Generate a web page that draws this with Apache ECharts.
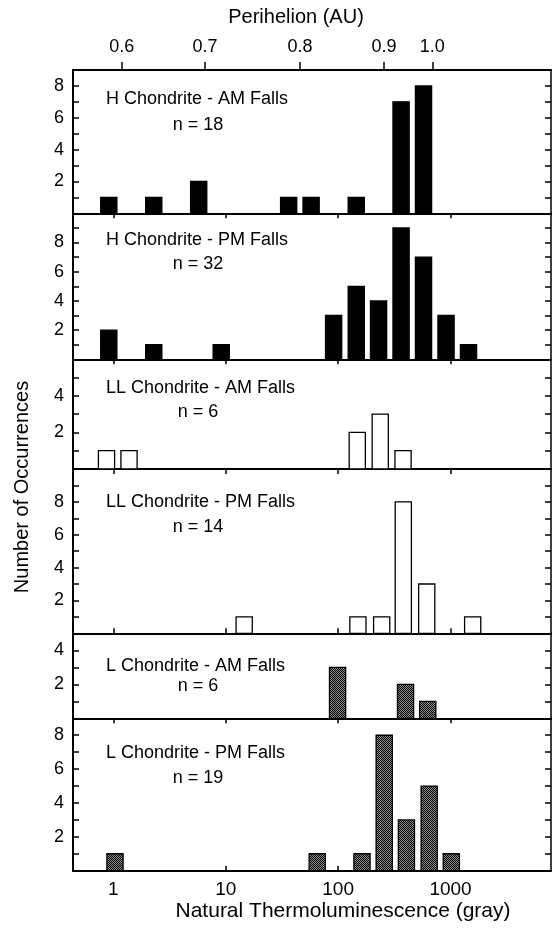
<!DOCTYPE html>
<html><head><meta charset="utf-8">
<script src="https://cdn.jsdelivr.net/npm/echarts@6/dist/echarts.min.js"></script>
<style>html,body{margin:0;padding:0;background:#fff}#c{width:553px;height:928px}</style>
</head><body><div id="c"></div>
<script>
// ---------- data ----------
const panelTitles = ['H Chondrite - AM Falls', 'H Chondrite - PM Falls', 'LL Chondrite - AM Falls',
                     'LL Chondrite - PM Falls', 'L Chondrite - AM Falls', 'L Chondrite - PM Falls'];
const panelN = ['n = 18', 'n = 32', 'n = 6', 'n = 14', 'n = 6', 'n = 19'];

// natural TL (gray) at bin centres, and number of occurrences
const hAmTL = [0.912, 2.29, 5.75, 36.3, 57.5, 145, 363, 575];
const hAmCount = [1, 1, 2, 1, 1, 1, 7, 8];
const hPmTL = [0.912, 2.29, 9.12, 91.2, 145, 229, 363, 575, 912, 1445];
const hPmCount = [2, 1, 1, 3, 5, 4, 9, 7, 3, 1];
const llAmTL = [0.87, 1.38, 148, 237, 378];
const llAmCount = [1, 1, 2, 3, 1];
const llPmTL = [14.6, 150, 244, 380, 614, 1574];
const llPmCount = [1, 1, 1, 8, 3, 1];
const lAmTL = [98.9, 398, 627];
const lAmCount = [3, 2, 1];
const lPmTL = [1.035, 65.2, 163, 257, 405, 646, 1016];
const lPmCount = [1, 1, 1, 8, 3, 5, 1];

const yMax = [9, 10, 6, 10, 5, 9];
const bottomTicks = [1, 10, 100, 1000];
const perihelionLabels = ['0.6', '0.7', '0.8', '0.9', '1.0'];
const perihelionAtTL = [1.19, 6.54, 45.8, 256, 689];

// ---------- layout / style ----------
const FONT = '"Liberation Sans", Arial, Helvetica, sans-serif';
const xMin = 0.438, xMax = 7830;
const gridLeft = 73, gridRight = 2;
const edges = [70, 213.3, 359.3, 469, 633.3, 718.3, 870.7];
const tickDownInside = [false, false, false, true, false, true];
const halfBin = Math.pow(10, 0.072);

const pc = document.createElement('canvas');
pc.width = 2; pc.height = 2;
const pctx = pc.getContext('2d');
pctx.fillStyle = '#8a8a8a'; pctx.fillRect(0, 0, 2, 2);
pctx.fillStyle = '#000'; pctx.fillRect(0, 0, 1, 1); pctx.fillRect(1, 1, 1, 1);
const stipple = { image: pc, repeat: 'repeat' };

const panels = [
  { x: hAmTL, y: hAmCount, fill: '#000' },
  { x: hPmTL, y: hPmCount, fill: '#000' },
  { x: llAmTL, y: llAmCount, fill: '#fff' },
  { x: llPmTL, y: llPmCount, fill: '#fff' },
  { x: lAmTL, y: lAmCount, fill: stipple },
  { x: lPmTL, y: lPmCount, fill: stipple }
];
const titleY = [99.3, 240, 388.3, 501.7, 666, 753.3];
const nY = [125, 264, 411.7, 526.7, 686.5, 778.3];

const grids = [], xAxes = [], yAxes = [], series = [], graphics = [];

panels.forEach((p, i) => {
  const top = edges[i], bottom = edges[i + 1];
  grids.push({ left: gridLeft, right: gridRight, top: top, height: bottom - top,
               containLabel: false, outerBoundsMode: 'none' });
  const last = i === panels.length - 1;
  xAxes.push({
    type: 'log', gridIndex: i, position: 'bottom', min: xMin, max: xMax,
    axisLine: { show: true, onZero: false, lineStyle: { color: '#000', width: 2.2 } },
    axisTick: { show: true, inside: tickDownInside[i], length: 5, customValues: bottomTicks,
                lineStyle: { color: '#000', width: 1.5 } },
    axisLabel: { show: last, customValues: bottomTicks, margin: 10, color: '#000',
                 fontSize: 19, fontFamily: FONT, formatter: v => String(Math.round(v)) },
    splitLine: { show: false }, minorTick: { show: false }
  });
  const m = yMax[i];
  yAxes.push({
    type: 'value', gridIndex: i, position: 'left', min: 0, max: m, interval: 1,
    axisLine: { show: true, onZero: false, lineStyle: { color: '#000', width: 2 } },
    axisTick: { show: true, inside: true, length: 6, lineStyle: { color: '#000', width: 1.5 } },
    axisLabel: { margin: 9, color: '#000', fontSize: 18, fontFamily: FONT,
                 formatter: v => (v > 0 && v < m && v % 2 === 0) ? String(v) : '' },
    splitLine: { show: false }
  });
  yAxes.push({
    type: 'value', gridIndex: i, position: 'right', min: 0, max: m, interval: 1,
    axisLine: { show: true, onZero: false, lineStyle: { color: '#000', width: 1.5 } },
    axisTick: { show: true, inside: true, length: 6, lineStyle: { color: '#000', width: 1.5 } },
    axisLabel: { show: false }, splitLine: { show: false }
  });
  const fill = p.fill;
  series.push({
    type: 'custom', coordinateSystem: 'cartesian2d',
    xAxisIndex: i, yAxisIndex: 2 * i,
    data: p.x.map((v, k) => [v, p.y[k]]),
    renderItem: function (params, api) {
      const v = api.value(0), c = api.value(1);
      const a = api.coord([v / halfBin, c]);
      const b = api.coord([v * halfBin, 0]);
      return { type: 'rect',
               shape: { x: a[0], y: a[1], width: b[0] - a[0], height: b[1] - a[1] },
               style: { fill: fill, stroke: '#000', lineWidth: 1.3 } };
    },
    silent: true, animation: false
  });
  graphics.push({ type: 'text', x: 106, y: titleY[i],
    style: { text: panelTitles[i], font: '18px ' + FONT, fill: '#000',
             align: 'left', verticalAlign: 'middle', textAlign: 'left', textVerticalAlign: 'middle' } });
  graphics.push({ type: 'text', x: 198, y: nY[i],
    style: { text: panelN[i], font: '18px ' + FONT, fill: '#000',
             align: 'center', verticalAlign: 'middle', textAlign: 'center', textVerticalAlign: 'middle' } });
});

// top perihelion axis on first panel
xAxes.push({
  type: 'log', gridIndex: 0, position: 'top', min: xMin, max: xMax,
  axisLine: { show: true, onZero: false, lineStyle: { color: '#000', width: 2.2 } },
  axisTick: { show: true, inside: false, length: 8, customValues: perihelionAtTL,
              lineStyle: { color: '#000', width: 1.5 } },
  axisLabel: { show: true, customValues: perihelionAtTL, margin: 14, color: '#000',
               fontSize: 18, fontFamily: FONT,
               formatter: v => {
                 let best = 0, bd = Infinity;
                 perihelionAtTL.forEach((t, k) => { const d = Math.abs(Math.log10(t) - Math.log10(v)); if (d < bd) { bd = d; best = k; } });
                 return perihelionLabels[best];
               } },
  splitLine: { show: false }, minorTick: { show: false }
});

graphics.push({ type: 'text', x: 296, y: 17,
  style: { text: 'Perihelion (AU)', font: '20px ' + FONT, fill: '#000',
           align: 'center', verticalAlign: 'middle', textAlign: 'center', textVerticalAlign: 'middle' } });
graphics.push({ type: 'text', x: 343, y: 911,
  style: { text: 'Natural Thermoluminescence (gray)', font: '21px ' + FONT, fill: '#000',
           align: 'center', verticalAlign: 'middle', textAlign: 'center', textVerticalAlign: 'middle' } });
graphics.push({ type: 'text', x: 22, y: 487, rotation: Math.PI / 2,
  style: { text: 'Number of Occurrences', font: '20px ' + FONT, fill: '#000',
           align: 'center', verticalAlign: 'middle', textAlign: 'center', textVerticalAlign: 'middle' } });

const chart = echarts.init(document.getElementById('c'), null, { renderer: 'canvas' });
chart.setOption({
  backgroundColor: '#fff',
  animation: false,
  grid: grids, xAxis: xAxes, yAxis: yAxes, series: series, graphic: graphics
});
</script></body></html>
